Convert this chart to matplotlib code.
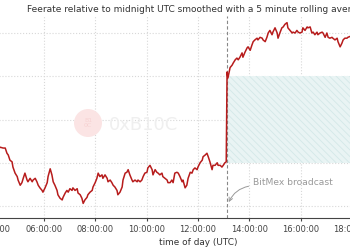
import matplotlib
matplotlib.use("Agg")
import matplotlib.pyplot as plt
from matplotlib.patches import Rectangle, Ellipse

# ---- data (time in minutes after midnight UTC, relative feerate) ----
minutes = [253, 258, 265, 270, 274, 277, 281, 286, 288, 293, 298, 300, 305, 309, 312, 316,
           321, 323, 328, 333, 335, 340, 344, 347, 351, 356, 358, 363, 368, 370, 375, 379,
           382, 386, 391, 393, 398, 403, 405, 410, 414, 417, 421, 426, 428, 433, 438, 440,
           445, 449, 452, 456, 461, 463, 468, 473, 475, 480, 484, 487, 491, 496, 498, 503,
           508, 510, 515, 519, 522, 526, 531, 533, 538, 543, 545, 550, 554, 557, 561, 566,
           568, 573, 578, 580, 585, 589, 592, 596, 601, 603, 608, 613, 615, 620, 624, 627,
           631, 636, 638, 643, 648, 650, 655, 659, 662, 666, 671, 674, 678, 683, 685, 690,
           694, 697, 702, 706, 709, 713, 718, 720, 725, 730, 732, 737, 741, 744, 748, 753,
           755, 760, 765, 767, 772, 776, 779, 783, 786, 788, 790, 793, 795, 800, 802, 807,
           811, 814, 818, 823, 825, 830, 835, 837, 842, 846, 849, 853, 858, 860, 865, 870,
           872, 877, 881, 884, 888, 893, 895, 900, 905, 907, 912, 916, 919, 923, 928, 930,
           935, 940, 942, 947, 951, 954, 958, 963, 965, 970, 975, 977, 982, 986, 989, 993,
           998, 1000, 1005, 1010, 1012, 1017, 1021, 1024, 1028, 1033, 1035, 1040, 1045, 1047,
           1052, 1056, 1059, 1063, 1068, 1070, 1080]
feerate = [1.65, 1.68, 1.67, 1.67, 1.61, 1.59, 1.53, 1.51, 1.45, 1.38, 1.34, 1.30, 1.24, 1.27, 1.32, 1.38,
           1.30, 1.28, 1.32, 1.28, 1.30, 1.32, 1.28, 1.24, 1.21, 1.18, 1.16, 1.21, 1.27, 1.34, 1.43, 1.36,
           1.28, 1.24, 1.18, 1.13, 1.09, 1.07, 1.10, 1.15, 1.18, 1.16, 1.20, 1.18, 1.21, 1.18, 1.20, 1.15,
           1.13, 1.09, 1.03, 1.07, 1.10, 1.13, 1.16, 1.18, 1.22, 1.27, 1.32, 1.38, 1.34, 1.36, 1.32, 1.36,
           1.32, 1.28, 1.30, 1.27, 1.24, 1.22, 1.18, 1.13, 1.16, 1.22, 1.30, 1.38, 1.39, 1.42, 1.36, 1.30,
           1.28, 1.30, 1.28, 1.30, 1.28, 1.30, 1.34, 1.38, 1.39, 1.44, 1.47, 1.42, 1.36, 1.42, 1.39, 1.38,
           1.36, 1.38, 1.34, 1.32, 1.30, 1.27, 1.27, 1.30, 1.27, 1.38, 1.39, 1.38, 1.34, 1.28, 1.30, 1.21,
           1.24, 1.32, 1.39, 1.38, 1.42, 1.44, 1.42, 1.45, 1.50, 1.53, 1.57, 1.59, 1.61, 1.57, 1.51, 1.42,
           1.47, 1.47, 1.50, 1.47, 1.47, 1.45, 1.47, 1.50, 1.51, 2.55, 2.48, 2.55, 2.60, 2.63, 2.65, 2.69,
           2.71, 2.69, 2.72, 2.77, 2.72, 2.78, 2.83, 2.84, 2.80, 2.86, 2.90, 2.92, 2.94, 2.92, 2.95, 2.94,
           2.92, 2.90, 2.95, 3.00, 3.03, 2.98, 3.01, 3.06, 3.00, 2.94, 3.01, 3.06, 3.07, 3.10, 3.12, 3.06,
           3.03, 3.00, 3.01, 3.00, 3.03, 3.01, 3.00, 3.01, 3.06, 3.03, 3.07, 3.06, 3.07, 3.00, 3.01, 2.98,
           3.01, 2.98, 3.00, 3.01, 3.00, 2.95, 3.00, 2.95, 2.94, 2.95, 2.94, 2.92, 2.94, 2.90,
           2.84, 2.88, 2.92, 2.94, 2.94, 2.95, 2.97]

broadcast_minute = 788.6
band_low, band_high = 1.5, 2.5
x_ticks = [0, 120, 240, 360, 480, 600, 720, 840, 960, 1080, 1200, 1320, 1440]
x_tick_labels = ["00:00:00", "02:00:00", "04:00:00", "06:00:00", "08:00:00", "10:00:00",
                 "12:00:00", "14:00:00", "16:00:00", "18:00:00", "20:00:00", "22:00:00", "24:00:00"]
y_ticks = [1.0, 1.5, 2.0, 2.5, 3.0]
title = "Feerate relative to midnight UTC smoothed with a 5 minute rolling average"

plt.rcParams['font.family'] = ['DejaVu Sans']
plt.rcParams['hatch.linewidth'] = 0.6
fig = plt.figure(figsize=(3.5, 2.5), dpi=100)
W, H = 350.0, 250.0
left_px, right_px = -110.4, 506.3
top_px, bottom_px = 16.0, 218.0
ax = fig.add_axes([left_px / W, (H - bottom_px) / H, (right_px - left_px) / W, (bottom_px - top_px) / H])

# watermark
fig.patches.append(Ellipse((88 / W, 1 - 123 / H), 28 / W, 28 / H, transform=fig.transFigure,
                           facecolor="#fbe4e4", edgecolor="none", zorder=0))
fig.text(88 / W, 1 - 123 / H, "B1\n0C", transform=fig.transFigure, ha="center", va="center",
         fontsize=4.5, color="#f6d2d2", linespacing=0.9, zorder=0.5)
fig.text(109 / W, 1 - 125 / H, "0xB10C", transform=fig.transFigure, ha="left", va="center",
         fontsize=13, color="#efefef", zorder=0.5)
ax.set_facecolor("none")

ax.set_xlim(0, 1440)
ax.set_ylim(1 + (206 - bottom_px) / 86.5, 1 + (206 - top_px) / 86.5)

ax.add_patch(Rectangle((broadcast_minute, band_low), 1440 - broadcast_minute, band_high - band_low,
                       facecolor="#e9f4f4", edgecolor="#d3e8e8", hatch="\\\\\\\\\\", linewidth=0, zorder=1))
ax.axvline(broadcast_minute, color="#888888", linestyle=(0, (3, 2)), linewidth=0.8, zorder=2)
ax.plot(minutes, feerate, color="#b71c1c", linewidth=1.1, zorder=3)

ax.annotate("BitMex broadcast", xy=(broadcast_minute + 2, 1.03), xytext=(848, 1.277),
            ha="left", va="center", fontsize=6.6, color="#999999",
            arrowprops=dict(arrowstyle="->", color="#999999", lw=0.7,
                            connectionstyle="arc3,rad=0.3", relpos=(0.0, 0.1), shrinkA=1, shrinkB=1))

ax.set_xticks(x_ticks)
ax.set_xticklabels(x_tick_labels)
ax.set_yticks(y_ticks)
ax.grid(True, linestyle=":", color="#d8d8d8", linewidth=0.8)
ax.set_axisbelow(True)
for s in ["top", "right", "left"]:
    ax.spines[s].set_visible(False)
ax.spines["bottom"].set_color("#444444")
ax.spines["bottom"].set_linewidth(0.8)
ax.tick_params(axis="x", labelsize=6, colors="#444444", length=2.5, width=0.8, pad=2.5)
ax.tick_params(axis="y", labelsize=6, length=0)
ax.set_xlabel("time of day (UTC)", fontsize=6.4, color="#333333", labelpad=3)
ax.set_title(title, fontsize=6.5, color="#333333", pad=3.2)

fig.savefig("out.png", dpi=100)
